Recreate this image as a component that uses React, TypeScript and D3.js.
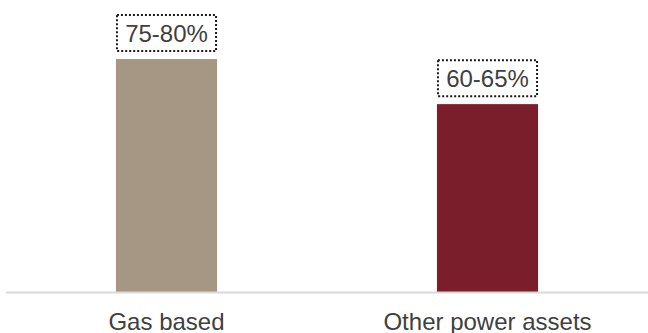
import React from "react";
import * as d3 from "d3";

const categories = ["Gas based", "Other power assets"];
const rangeLow = [75, 60];
const rangeHigh = [80, 65];
const barColors = ["#A69784", "#7B1E2B"];

const W = 648;
const H = 333;
const baseY = 292;

export default function App() {
  const mids = rangeLow.map((lo, i) => (lo + rangeHigh[i]) / 2);
  const x = d3
    .scaleBand<string>()
    .domain(categories)
    .range([6, W])
    .paddingInner(0.685)
    .paddingOuter(0.3425);
  const y = d3.scaleLinear().domain([0, 100]).range([baseY, baseY - 300.6]);
  const font = "'Liberation Sans', Arial, sans-serif";

  return (
    <svg
      width={W}
      height={H}
      style={{ position: "absolute", left: 0, top: 0 }}
      fontFamily={font}
    >
      {categories.map((c, i) => {
        const bx = x(c)!;
        const bw = x.bandwidth();
        const top = y(mids[i]);
        const label = `${rangeLow[i]}-${rangeHigh[i]}%`;
        return (
          <g key={c}>
            <rect x={bx} y={top} width={bw} height={baseY - top} fill={barColors[i]} />
            <rect
              x={bx + 1}
              y={top - 44}
              width={bw - 2}
              height={36}
              fill="none"
              stroke="#1a1a1a"
              strokeWidth={2}
              strokeDasharray="2 2"
            />
            <text
              x={bx + bw / 2}
              y={top - 17}
              textAnchor="middle"
              fontSize={24}
              fill="#404040"
            >
              {label}
            </text>
            <text
              x={bx + bw / 2}
              y={330}
              textAnchor="middle"
              fontSize={24}
              fill="#404040"
            >
              {c}
            </text>
          </g>
        );
      })}
      <line x1={6} x2={W} y1={baseY + 0.5} y2={baseY + 0.5} stroke="#D9D9D9" strokeWidth={2} />
    </svg>
  );
}
